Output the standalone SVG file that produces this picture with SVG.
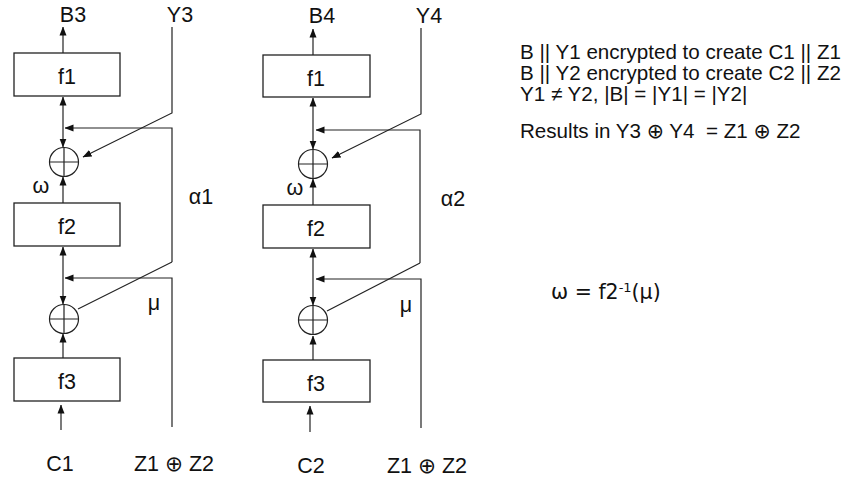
<svg xmlns="http://www.w3.org/2000/svg" width="853" height="481" viewBox="0 0 853 481">
<style>
text{font-family:"Liberation Sans","DejaVu Sans",Arial,sans-serif;font-size:21.5px;fill:#111}
.lbl{text-anchor:middle}
.box{fill:#fff;stroke:#222;stroke-width:1.3}
.ln{fill:none;stroke:#222;stroke-width:1.2}
.xor{fill:none;stroke:#222;stroke-width:1.2}
.note{font-size:20.6px}
</style>
<defs>
<marker id="ah" markerWidth="9" markerHeight="8" refX="8.5" refY="4" orient="auto" markerUnits="userSpaceOnUse">
<path d="M0,0.5 L9,4 L0,7.5 z" fill="#111"/>
</marker>
<marker id="as" markerWidth="9" markerHeight="8" refX="0.5" refY="4" orient="auto" markerUnits="userSpaceOnUse">
<path d="M9,0.5 L0,4 L9,7.5 z" fill="#111"/>
</marker>
</defs>

<g id="connectors">
<!-- left column -->
<line class="ln" x1="63" y1="53" x2="63" y2="27" marker-end="url(#ah)"/>
<polyline class="ln" points="172,27 172,113 83,157" marker-end="url(#ah)"/>
<polyline class="ln" points="172,262 172,128 65,128" marker-end="url(#ah)"/>
<line class="ln" x1="63" y1="97" x2="63" y2="147" marker-start="url(#as)" marker-end="url(#ah)"/>
<line class="ln" x1="63" y1="203" x2="63" y2="177" marker-end="url(#ah)"/>
<line class="ln" x1="63" y1="247" x2="63" y2="304" marker-start="url(#as)" marker-end="url(#ah)"/>
<polyline class="ln" points="172,427 172,278 65,278" marker-end="url(#ah)"/>
<line class="ln" x1="172" y1="262" x2="78" y2="309"/>
<line class="ln" x1="63" y1="358" x2="63" y2="334" marker-end="url(#ah)"/>
<line class="ln" x1="61" y1="430" x2="61" y2="405" marker-end="url(#ah)"/>
<!-- right column -->
<line class="ln" x1="313" y1="55" x2="313" y2="29" marker-end="url(#ah)"/>
<polyline class="ln" points="421,28 421,114 332,158" marker-end="url(#ah)"/>
<polyline class="ln" points="420,263 420,130 316,130" marker-end="url(#ah)"/>
<line class="ln" x1="313" y1="98" x2="313" y2="149" marker-start="url(#as)" marker-end="url(#ah)"/>
<line class="ln" x1="313" y1="205" x2="313" y2="179" marker-end="url(#ah)"/>
<line class="ln" x1="313" y1="249" x2="313" y2="305" marker-start="url(#as)" marker-end="url(#ah)"/>
<polyline class="ln" points="421,428 421,279 316,279" marker-end="url(#ah)"/>
<line class="ln" x1="420" y1="263" x2="327" y2="311"/>
<line class="ln" x1="313" y1="360" x2="313" y2="336" marker-end="url(#ah)"/>
<line class="ln" x1="310" y1="432" x2="310" y2="406" marker-end="url(#ah)"/>
</g>

<g id="f1-left"><rect class="box" x="14" y="53" width="106" height="43"/><text class="lbl" x="67" y="84">f1</text></g>
<g id="xor1-left"><circle class="xor" cx="64" cy="162" r="14.5"/><path class="ln" d="M49.5,162 H78.5 M64,147.5 V176.5"/></g>
<g id="f2-left"><rect class="box" x="14" y="203" width="106" height="43"/><text class="lbl" x="67" y="234">f2</text></g>
<g id="xor2-left"><circle class="xor" cx="64" cy="319" r="14.5"/><path class="ln" d="M49.5,319 H78.5 M64,304.5 V333.5"/></g>
<g id="f3-left"><rect class="box" x="14" y="358" width="106" height="43"/><text class="lbl" x="67" y="389">f3</text></g>

<g id="f1-right"><rect class="box" x="263" y="55" width="107" height="42"/><text class="lbl" x="316" y="86">f1</text></g>
<g id="xor1-right"><circle class="xor" cx="313" cy="164" r="14.5"/><path class="ln" d="M298.5,164 H327.5 M313,149.5 V178.5"/></g>
<g id="f2-right"><rect class="box" x="263" y="205" width="107" height="43"/><text class="lbl" x="316" y="236">f2</text></g>
<g id="xor2-right"><circle class="xor" cx="313" cy="320" r="14.5"/><path class="ln" d="M298.5,320 H327.5 M313,305.5 V334.5"/></g>
<g id="f3-right"><rect class="box" x="263" y="360" width="107" height="42"/><text class="lbl" x="316" y="391">f3</text></g>

<g id="labels">
<text class="lbl" x="73" y="22">B3</text>
<text class="lbl" x="180" y="22">Y3</text>
<text class="lbl" x="41" y="193">ω</text>
<text class="lbl" x="201" y="204">α1</text>
<text class="lbl" x="154" y="310">μ</text>
<text class="lbl" x="60" y="471">C1</text>
<text class="lbl" x="174" y="471">Z1 ⊕ Z2</text>
<text class="lbl" x="322" y="23">B4</text>
<text class="lbl" x="429" y="23">Y4</text>
<text class="lbl" x="295" y="195">ω</text>
<text class="lbl" x="453" y="206">α2</text>
<text class="lbl" x="406" y="312">μ</text>
<text class="lbl" x="311" y="473">C2</text>
<text class="lbl" x="427" y="473">Z1 ⊕ Z2</text>
</g>

<g id="notes">
<text class="note" x="520" y="59">B || Y1 encrypted to create C1 || Z1</text>
<text class="note" x="520" y="80">B || Y2 encrypted to create C2 || Z2</text>
<text class="note" x="520" y="101">Y1 ≠ Y2, |B| = |Y1| = |Y2|</text>
<text class="note" x="520" y="138">Results in Y3 ⊕ Y4&#160; = Z1 ⊕ Z2</text>
<text x="551" y="299" style="font-family:'DejaVu Sans','Liberation Sans',sans-serif;font-size:20.5px">ω = f2<tspan font-size="13" dy="-7">-1</tspan><tspan dy="7">(μ)</tspan></text>
</g>
</svg>
